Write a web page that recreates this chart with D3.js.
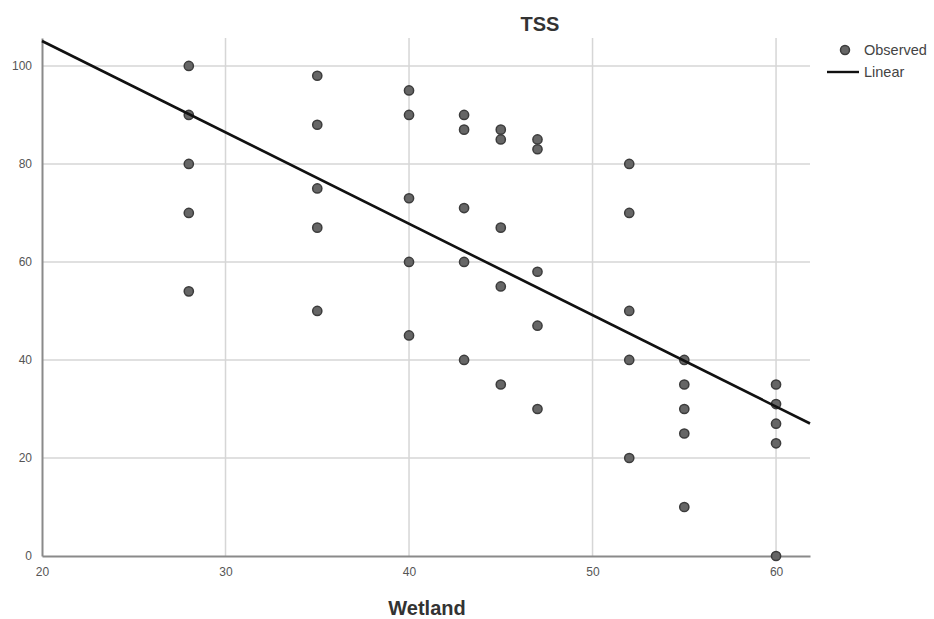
<!DOCTYPE html>
<html><head><meta charset="utf-8">
<script src="https://cdn.jsdelivr.net/npm/d3@7"></script>
<style>body{margin:0;background:#fff}svg{display:block}</style>
</head><body>
<script>
const wetland = [28,28,28,28,28, 35,35,35,35,35, 40,40,40,40,40, 43,43,43,43,43, 45,45,45,45,45, 47,47,47,47,47, 52,52,52,52,52, 55,55,55,55,55, 60,60,60,60,60];
const tss = [100,90,80,70,54, 98,88,75,67,50, 95,90,73,60,45, 90,87,71,60,40, 87,85,67,55,35, 85,83,58,47,30, 80,70,50,40,20, 40,35,30,25,10, 35,31,27,23,0];
const xTicks = [20,30,40,50,60];
const yTicks = [0,20,40,60,80,100];
const title = "TSS";
const xLabel = "Wetland";
const legendLabels = ["Observed","Linear"];

const W=934,H=619;
const svg=d3.select("body").append("svg").attr("width",W).attr("height",H);
const x=d3.scaleLinear().domain([20,61.85]).range([42,810]);
const y=d3.scaleLinear().domain([0,105.7]).range([556,38]);

// gridlines
svg.append("g").selectAll("line").data(yTicks.filter(d=>d>0)).join("line")
  .attr("x1",42).attr("x2",810).attr("y1",d=>y(d)).attr("y2",d=>y(d))
  .attr("stroke","#d6d6d6").attr("stroke-width",1.5);
svg.append("g").selectAll("line").data(xTicks.filter(d=>d>20)).join("line")
  .attr("x1",d=>x(d)).attr("x2",d=>x(d)).attr("y1",38).attr("y2",556)
  .attr("stroke","#d6d6d6").attr("stroke-width",1.5);

// axes
const xAxis=svg.append("g").attr("transform","translate(0,556)")
  .call(d3.axisBottom(x).tickValues(xTicks).tickSize(0).tickPadding(11));
const yAxis=svg.append("g").attr("transform","translate(42,0)")
  .call(d3.axisLeft(y).tickValues(yTicks).tickSize(0).tickPadding(10));
[xAxis,yAxis].forEach(a=>{
  a.select(".domain").attr("stroke","#8a8a8a").attr("stroke-width",2);
  a.selectAll("text").attr("fill","#555").style("font-family","Liberation Sans, Arial, sans-serif").style("font-size","12px");
});

// regression line computed from data
const mx=d3.mean(wetland), my=d3.mean(tss);
const sxy=d3.sum(wetland,(v,i)=>(v-mx)*(tss[i]-my));
const sxx=d3.sum(wetland,v=>(v-mx)*(v-mx));
const b=sxy/sxx, a0=my-b*mx;
const xd=x.domain();

// points
svg.append("g").selectAll("circle").data(wetland.map((v,i)=>[v,tss[i]])).join("circle")
  .attr("cx",d=>x(d[0])).attr("cy",d=>y(d[1])).attr("r",4.6)
  .attr("fill","#666").attr("stroke","#3c3c3c").attr("stroke-width",1.5);

svg.append("line").attr("x1",x(xd[0])).attr("y1",y(a0+b*xd[0]))
  .attr("x2",x(xd[1])).attr("y2",y(a0+b*xd[1]))
  .attr("stroke","#111").attr("stroke-width",2.6);

// title & axis label
svg.append("text").attr("x",540).attr("y",31).attr("text-anchor","middle")
  .style("font-family","Liberation Sans, Arial, sans-serif").style("font-size","20px").style("font-weight","bold").attr("fill","#333").text(title);
svg.append("text").attr("x",427).attr("y",615).attr("text-anchor","middle")
  .style("font-family","Liberation Sans, Arial, sans-serif").style("font-size","20px").style("font-weight","bold").attr("fill","#333").text(xLabel);

// legend
const lg=svg.append("g");
lg.append("circle").attr("cx",845).attr("cy",50).attr("r",4.5).attr("fill","#666").attr("stroke","#3c3c3c").attr("stroke-width",1.5);
lg.append("line").attr("x1",827).attr("x2",859).attr("y1",72).attr("y2",72).attr("stroke","#111").attr("stroke-width",2.4);
lg.selectAll("text").data(legendLabels).join("text")
  .attr("x",864).attr("y",(d,i)=>55+i*22)
  .style("font-family","Liberation Sans Narrow, Liberation Sans, Arial, sans-serif").style("font-size","14.5px").attr("fill","#444").text(d=>d);
</script>
</body></html>
